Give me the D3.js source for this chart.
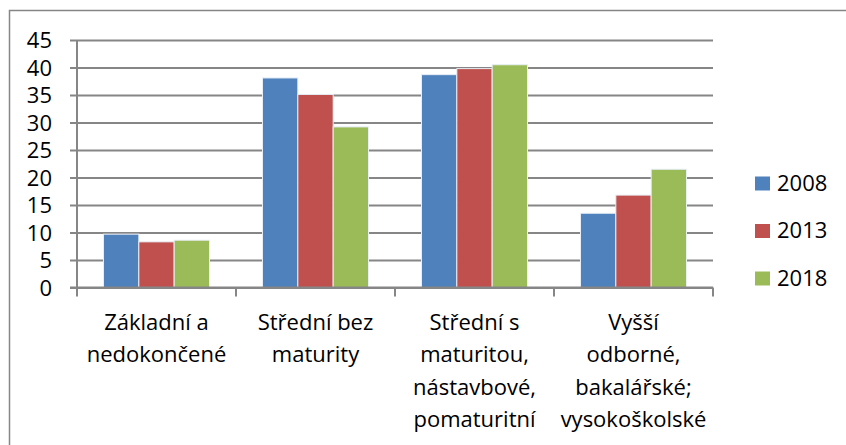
<!DOCTYPE html>
<html>
<head>
<meta charset="utf-8">
<script src="https://cdn.jsdelivr.net/npm/d3@7"></script>
<style>
  body { margin: 0; background: #fff; }
  text { font-family: "Open Sans", sans-serif; fill: #000; }
</style>
</head>
<body>
<div id="chart"></div>
<script>
// data
const CATEGORIES = [
  ['Základní a', 'nedokončené'],
  ['Střední bez', 'maturity'],
  ['Střední s', 'maturitou,', 'nástavbové,', 'pomaturitní'],
  ['Vyšší', 'odborné,', 'bakalářské;', 'vysokoškolské']
];
const SERIES = ['2008', '2013', '2018'];
const VALUES_2008 = [9.7, 38.1, 38.7, 13.5];
const VALUES_2013 = [8.3, 35.1, 39.8, 16.8];
const VALUES_2018 = [8.6, 29.2, 40.5, 21.5];
const Y_TICKS = [0, 5, 10, 15, 20, 25, 30, 35, 40, 45];

const COLORS = ['#4F81BD', '#C0504D', '#9BBB59'];

const W = 846, H = 445;
const PLOT = {left: 77, right: 713, top: 40, bottom: 287.5};

const svg = d3.select('#chart').append('svg')
  .attr('width', W).attr('height', H);

// outer frame (runs off the right and bottom edges)
svg.append('rect')
  .attr('x', 9.5).attr('y', 10.5)
  .attr('width', 860).attr('height', 460)
  .attr('fill', 'none').attr('stroke', '#868686').attr('stroke-width', 1.5);

const x0 = d3.scaleBand()
  .domain(d3.range(CATEGORIES.length))
  .range([PLOT.left, PLOT.right]);

const x1 = d3.scaleBand()
  .domain(SERIES)
  .range([0, x0.bandwidth()])
  .paddingOuter(0.75);

const y = d3.scaleLinear()
  .domain([0, 45])
  .range([PLOT.bottom, PLOT.top]);

// gridlines (with the little ticks left of the axis)
const gy = svg.append('g')
  .attr('transform', 'translate(' + PLOT.right + ',0)');
gy.call(d3.axisLeft(y).tickValues(Y_TICKS)
  .tickSize(PLOT.right - PLOT.left + 7).tickFormat(''));
gy.select('.domain').remove();
gy.selectAll('line').attr('stroke', '#868686').attr('stroke-width', 2);

// y tick labels
const gyl = svg.append('g')
  .attr('transform', 'translate(' + PLOT.left + ',0)');
gyl.call(d3.axisLeft(y).tickValues(Y_TICKS).tickSize(0).tickPadding(25));
gyl.select('.domain').remove();
gyl.selectAll('text')
  .style('font-size', '22px')
  .style('font-family', '"Open Sans", sans-serif')
  .attr('fill', '#000')
  .attr('dy', '0.36em');

svg.append('line')
  .attr('x1', PLOT.left).attr('x2', PLOT.left)
  .attr('y1', PLOT.top).attr('y2', PLOT.bottom)
  .attr('stroke', '#868686').attr('stroke-width', 2);

// bars
const rows = CATEGORIES.map((c, i) => ({
  i: i,
  vals: [VALUES_2008[i], VALUES_2013[i], VALUES_2018[i]]
}));

const groups = svg.selectAll('g.cat')
  .data(rows).enter().append('g')
  .attr('class', 'cat')
  .attr('transform', d => 'translate(' + x0(d.i) + ',0)');

groups.selectAll('rect')
  .data(d => d.vals.map((v, k) => ({s: SERIES[k], v: v, k: k})))
  .enter().append('rect')
  .attr('x', d => x1(d.s))
  .attr('y', d => y(d.v))
  .attr('width', x1.bandwidth())
  .attr('height', d => y(0) - y(d.v))
  .attr('fill', d => COLORS[d.k])
  .attr('stroke', '#e8eef6')
  .attr('stroke-width', 1);

// x axis line + category boundary ticks
svg.append('line')
  .attr('x1', PLOT.left - 7).attr('x2', PLOT.right)
  .attr('y1', PLOT.bottom).attr('y2', PLOT.bottom)
  .attr('stroke', '#868686').attr('stroke-width', 2);

const bounds = d3.range(CATEGORIES.length + 1).map(i =>
  i < CATEGORIES.length ? x0(i) : x0(i - 1) + x0.bandwidth());
svg.selectAll('line.xtick')
  .data(bounds).enter().append('line')
  .attr('class', 'xtick')
  .attr('x1', d => d).attr('x2', d => d)
  .attr('y1', PLOT.bottom).attr('y2', PLOT.bottom + 9)
  .attr('stroke', '#868686').attr('stroke-width', 2);

// category labels
const labels = svg.selectAll('text.cat')
  .data(CATEGORIES).enter().append('text')
  .attr('class', 'cat')
  .attr('text-anchor', 'middle')
  .style('font-size', '22px')
  .attr('x', (d, i) => x0(i) + x0.bandwidth() / 2)
  .attr('y', 330);
labels.selectAll('tspan')
  .data(d => d).enter().append('tspan')
  .attr('x', function () { return this.parentNode.getAttribute('x'); })
  .attr('dy', (d, i) => i === 0 ? 0 : 32.3)
  .text(d => d);

// legend
const legend = svg.append('g').attr('transform', 'translate(755,0)');
SERIES.forEach((s, k) => {
  const yy = 176.5 + k * 47.5;
  legend.append('rect')
    .attr('x', 0).attr('y', yy)
    .attr('width', 15).attr('height', 14)
    .attr('fill', COLORS[k]);
  legend.append('text')
    .attr('x', 22).attr('y', yy + 14)
    .style('font-size', '22px')
    .text(s);
});
</script>
</body>
</html>
